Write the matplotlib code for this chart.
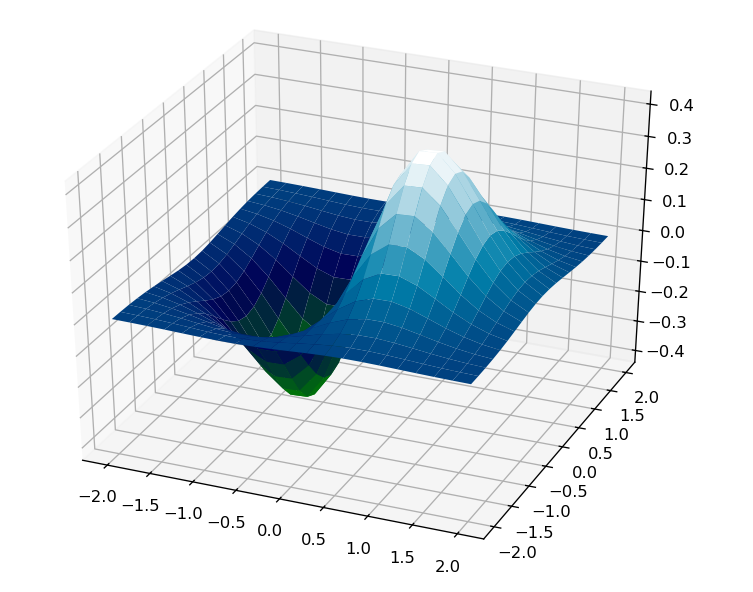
import numpy as np
import matplotlib
matplotlib.use("Agg")
import matplotlib.pyplot as plt

grid_values = [-2.0, -1.8, -1.6, -1.4, -1.2, -1.0, -0.8, -0.6, -0.4, -0.2, 0.0,
               0.2, 0.4, 0.6, 0.8, 1.0, 1.2, 1.4, 1.6, 1.8, 2.0]

# Surface heights read for x >= 0, y >= 0 (rows y = 0..2, columns x = 0..2).
# The picture is mirrored in y and opposite in sign across x = 0.
z_quadrant = [
    [0, .1922, .3409, .4186, .4218, .3679, .2843, .1972, .1237, .0705, .0366],
    [0, .1847, .3275, .4022, .4053, .3535, .2731, .1895, .1189, .0677, .0352],
    [0, .1638, .2905, .3567, .3594, .3135, .2423, .1680, .1054, .0601, .0312],
    [0, .1341, .2378, .2921, .2943, .2567, .1984, .1376, .0863, .0492, .0255],
    [0, .1013, .1798, .2207, .2224, .1940, .1499, .1040, .0652, .0372, .0193],
    [0, .0707, .1254, .1540, .1552, .1354, .1046, .0725, .0455, .0259, .0135],
    [0, .0455, .0808, .0992, .0999, .0872, .0674, .0467, .0293, .0167, .0087],
    [0, .0271, .0480, .0590, .0594, .0518, .0401, .0278, .0174, .0099, .0052],
    [0, .0149, .0264, .0324, .0326, .0284, .0220, .0152, .0096, .0054, .0028],
    [0, .0075, .0134, .0164, .0165, .0144, .0111, .0077, .0048, .0028, .0014],
    [0, .0035, .0062, .0077, .0077, .0067, .0052, .0036, .0023, .0013, .0007],
]

q = np.array(z_quadrant)
right = np.vstack([q[:0:-1], q])
left = -right[:, :0:-1]
Z = np.hstack([left, right])
X, Y = np.meshgrid(grid_values, grid_values)

fig = plt.figure(figsize=(753 / 118, 592 / 118), dpi=118)
ax = fig.add_axes([-0.012, 0.055, 0.968, 0.93], projection="3d")
ax.apply_aspect = lambda position=None: None  # let the 3D box fill the axes rectangle
ax.set_box_aspect((1, 1, 1))
ax.view_init(elev=33, azim=-67)
ax.plot_surface(X, Y, Z, rstride=1, cstride=1, cmap="ocean", linewidth=0)
ax.set_zlim(-0.44, 0.44)
fig.savefig("out.png", dpi=118)
